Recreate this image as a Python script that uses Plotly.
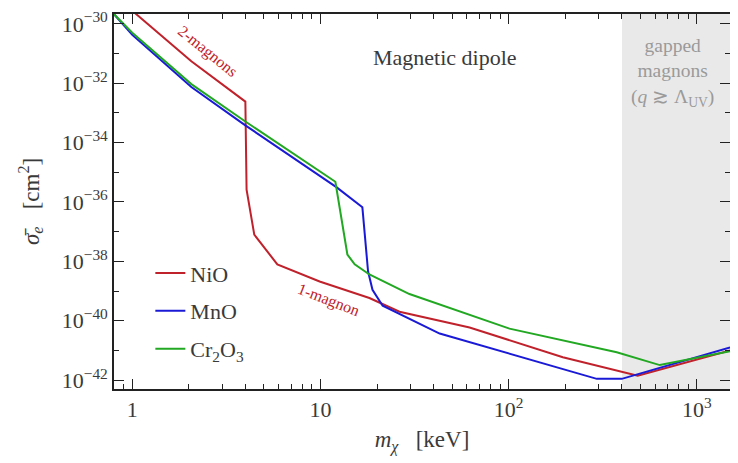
import plotly.graph_objects as go

# ---- data ----
nio_x = [1.0, 2.06, 3.99, 4.05, 4.45, 5.9, 9.9, 18.2, 26.3, 62, 194, 485, 1500]
nio_y = [2.75e-30, 5.5e-32, 2.4e-33, 2.6e-36, 7.9e-38, 7.9e-39, 2.1e-39, 5.8e-40,
         2.0e-40, 5.9e-41, 5.9e-42, 1.4e-42, 1.0e-41]

mno_x = [0.8, 1.0, 2.06, 3.99, 12.2, 16.7, 17.9, 18.9, 21.4, 43, 294, 399, 1500]
mno_y = [2.1e-30, 4.3e-31, 7.4e-33, 3.8e-34, 3.1e-36, 6.6e-37, 4.6e-39, 1.1e-39,
         3.2e-40, 3.7e-41, 1.1e-42, 1.1e-42, 1.26e-41]

cr2o3_x = [0.8, 1.0, 2.06, 3.99, 12.0, 13.9, 15.2, 18.2, 29.7, 101, 375, 635, 1500]
cr2o3_y = [2.1e-30, 5.0e-31, 9.3e-33, 5.1e-34, 4.8e-36, 1.7e-38, 7.9e-39, 3.6e-39,
           7.9e-40, 5.4e-41, 8.7e-42, 3.2e-42, 9.3e-42]

gapped_start = 400  # keV

x_tickvals = [1, 10, 100, 1000]
x_ticktext = ["1", "10", "10<sup>2</sup>", "10<sup>3</sup>"]
x_minor = [m * d for d in [0.1, 1, 10, 100, 1000] for m in range(2, 10)]
y_exps = [-42, -40, -38, -36, -34, -32, -30]
y_tickvals = [10.0 ** e for e in y_exps]
y_ticktext = ["10<sup>\u2212%d</sup>" % (-e) for e in y_exps]
y_minor = [10.0 ** e for e in range(-43, -28, 2)]

gapped_text = "gapped<br>magnons<br>(<i>q</i> \u2273 \u039b<sub>UV</sub>)"

series = [
    ("NiO", nio_x, nio_y, "#c0222c", "legend"),
    ("MnO", mno_x, mno_y, "#1a1ad6", "legend2"),
    ("Cr<sub>2</sub>O<sub>3</sub>", cr2o3_x, cr2o3_y, "#22a822", "legend3"),
]

FONT = "Liberation Serif"
TXT = "#3a3a3a"

fig = go.Figure()
for name, xs, ys, col, lg in series:
    fig.add_trace(go.Scatter(x=xs, y=ys, mode="lines", name=name,
                             line=dict(color=col, width=2), legend=lg))

fig.add_shape(type="rect", xref="x", yref="paper", x0=gapped_start, x1=1500,
              y0=0, y1=1, fillcolor="#e9e9e9", line=dict(width=0), layer="below")

axis_common = dict(
    showline=True, linecolor="#222222", linewidth=1.6, mirror="ticks",
    ticks="inside", ticklen=10, tickwidth=1.4, tickcolor="#222222",
    showgrid=False, zeroline=False, automargin=False,
    ticklabeloverflow="allow",
    tickfont=dict(family=FONT, size=22, color=TXT),
)

fig.update_xaxes(type="log", range=[-0.097, 3.176],
                 tickmode="array", tickvals=x_tickvals, ticktext=x_ticktext,
                 minor=dict(tickmode="array", tickvals=x_minor, ticks="inside",
                            ticklen=5, tickwidth=1.2, tickcolor="#222222"),
                 title=dict(text="<i>m</i><sub><i>\u03c7</i></sub>   [keV]",
                            font=dict(family=FONT, size=23, color=TXT), standoff=10),
                 **axis_common)
fig.update_yaxes(type="log", range=[-42.3, -29.67],
                 tickmode="array", tickvals=y_tickvals, ticktext=y_ticktext,
                 minor=dict(tickmode="array", tickvals=y_minor, ticks="inside",
                            ticklen=5, tickwidth=1.2, tickcolor="#222222"),
                 title=dict(text="<i>\u03c3\u0304</i><sub><i>e</i></sub>   [cm<sup>2</sup>]",
                            font=dict(family=FONT, size=23, color=TXT), standoff=16),
                 **axis_common)

leg_common = dict(font=dict(family=FONT, size=22, color=TXT), bgcolor="rgba(0,0,0,0)",
                  xanchor="left", yanchor="middle", x=0.059)

annotations = [
    dict(text="Magnetic dipole", xref="paper", yref="paper", x=0.537, y=0.885,
         xanchor="center", yanchor="middle", showarrow=False,
         font=dict(family=FONT, size=22, color=TXT)),
    dict(text="2-magnons", xref="paper", yref="paper", x=0.151, y=0.901,
         xanchor="center", yanchor="middle", showarrow=False, textangle=39,
         font=dict(family=FONT, size=16, color="#c0222c")),
    dict(text="1-magnon", xref="paper", yref="paper", x=0.348, y=0.237,
         xanchor="center", yanchor="middle", showarrow=False, textangle=21,
         font=dict(family=FONT, size=16, color="#c0222c")),
    dict(text=gapped_text, xref="paper", yref="paper", x=0.906, y=0.845,
         xanchor="center", yanchor="middle", showarrow=False,
         font=dict(family=FONT, size=19.5, color="#9a9a9a")),
]

# page body adds an 8px offset; size the figure so the plot area lands where the reference has it
fig.update_layout(
    width=730, height=455,
    margin=dict(l=106, r=8, t=6, b=74),
    paper_bgcolor="white", plot_bgcolor="white",
    showlegend=True,
    legend=dict(y=0.309, **leg_common),
    legend2=dict(y=0.208, **leg_common),
    legend3=dict(y=0.107, **leg_common),
    annotations=annotations,
)

fig.write_html("out.html")
